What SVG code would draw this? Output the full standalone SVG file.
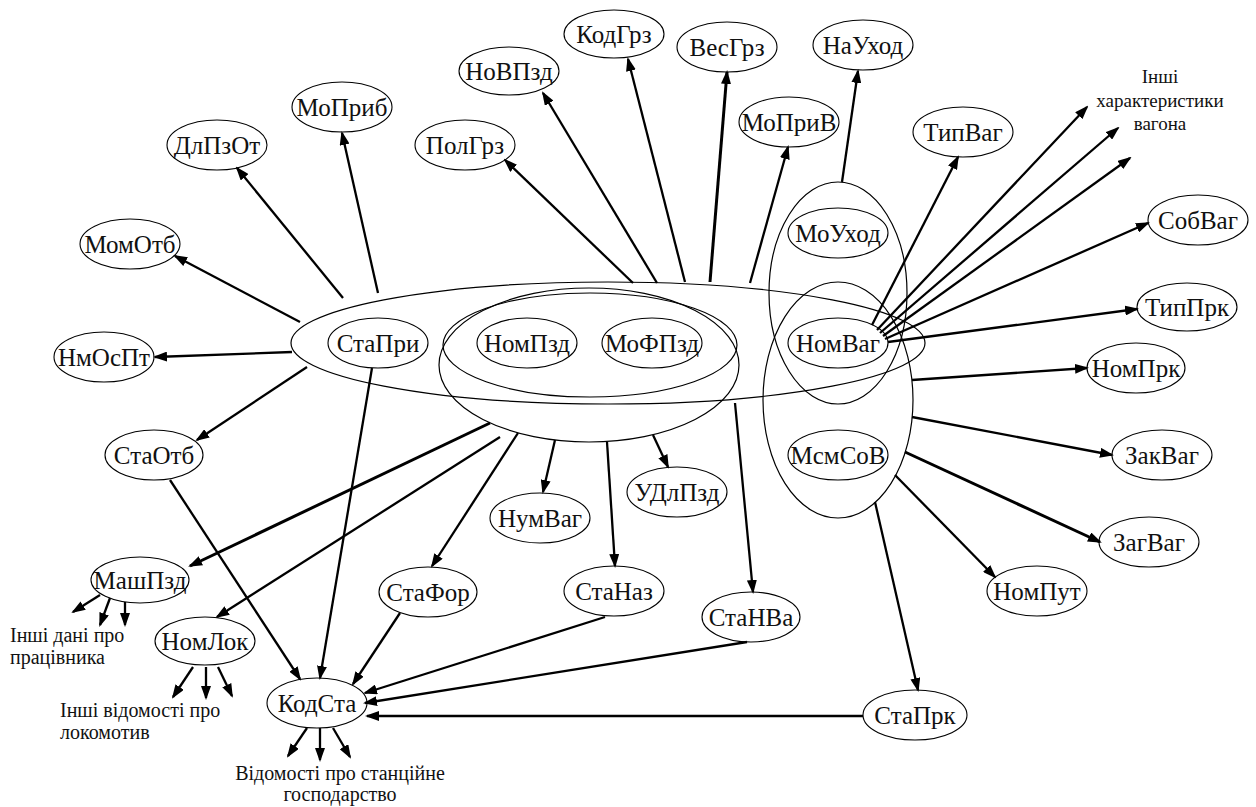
<svg xmlns="http://www.w3.org/2000/svg" width="1256" height="807" viewBox="0 0 1256 807">
<defs>
<marker id="ah" markerUnits="userSpaceOnUse" markerWidth="14" markerHeight="10" refX="12" refY="5" orient="auto" viewBox="0 0 14 10">
<path d="M0,0 L14,5 L0,10 z" fill="#000"/>
</marker>
</defs>
<style>
.n ellipse{fill:none;stroke:#000;stroke-width:1.1}
.c{fill:none;stroke:#000;stroke-width:1.2}
text{font-family:"Liberation Serif","DejaVu Serif",serif;fill:#111}
.n text{font-size:25px;text-anchor:middle}
.lb text{font-size:20px}
#lbl-wagon text{font-size:19px}
#edges line{stroke:#000;stroke-width:2.3;marker-end:url(#ah)}
#edges line.t{stroke-width:3}
</style>
<rect width="1256" height="807" fill="#fff"/>

<g id="containers">
<ellipse id="grp-big" class="c" cx="608" cy="343" rx="317" ry="61"/>
<ellipse id="grp-train-narrow" class="c" cx="590" cy="345" rx="147" ry="52"/>
<ellipse id="grp-train-round" class="c" cx="589" cy="365" rx="150" ry="77"/>
<ellipse id="grp-wagon-upper" class="c" cx="838" cy="293" rx="69" ry="111"/>
<ellipse id="grp-wagon-lower" class="c" cx="838" cy="400" rx="75" ry="118"/>
</g>

<g id="edges">
<line x1="300" y1="322" x2="175" y2="256"/>
<line x1="343" y1="298" x2="237" y2="168"/>
<line x1="378" y1="293" x2="342" y2="133"/>
<line x1="292" y1="352" x2="155" y2="357"/>
<line x1="307" y1="367" x2="197" y2="440"/>
<line x1="633" y1="283" x2="505" y2="160"/>
<line x1="657" y1="283" x2="543" y2="93"/>
<line x1="685" y1="282" x2="628" y2="59"/>
<line class="t" x1="710" y1="282" x2="727" y2="72"/>
<line x1="750" y1="283" x2="788" y2="147"/>
<line x1="842" y1="182" x2="858" y2="71"/>
<line x1="872" y1="325" x2="958" y2="157"/>
<line x1="877" y1="330" x2="1087" y2="107"/>
<line x1="880" y1="333" x2="1118" y2="128"/>
<line x1="883" y1="336" x2="1130" y2="158"/>
<line x1="885" y1="339" x2="1148" y2="223"/>
<line x1="888" y1="342" x2="1137" y2="309"/>
<line x1="912" y1="380" x2="1087" y2="368"/>
<line x1="912" y1="417" x2="1112" y2="455"/>
<line class="t" x1="905" y1="452" x2="1100" y2="542"/>
<line x1="895" y1="475" x2="995" y2="577"/>
<line x1="875" y1="502" x2="918" y2="690"/>
<line x1="863" y1="716" x2="367" y2="716"/>
<line x1="555" y1="440" x2="543" y2="492"/>
<line x1="653" y1="435" x2="668" y2="467"/>
<line x1="607" y1="442" x2="615" y2="566"/>
<line x1="735" y1="403" x2="753" y2="592"/>
<line x1="518" y1="433" x2="432" y2="566"/>
<line x1="500" y1="437" x2="217" y2="617"/>
<line class="t" x1="490" y1="423" x2="190" y2="566"/>
<line x1="372" y1="368" x2="320" y2="678"/>
<line x1="170" y1="480" x2="300" y2="679"/>
<line x1="400" y1="613" x2="353" y2="684"/>
<line x1="605" y1="617" x2="365" y2="693"/>
<line x1="747" y1="642" x2="365" y2="703"/>
<line x1="100" y1="595" x2="73" y2="612"/>
<line x1="110" y1="598" x2="100" y2="625"/>
<line x1="125" y1="602" x2="125" y2="625"/>
<line x1="193" y1="667" x2="173" y2="697"/>
<line x1="206" y1="667" x2="206" y2="698"/>
<line x1="218" y1="667" x2="232" y2="696"/>
<line x1="307" y1="728" x2="288" y2="756"/>
<line x1="320" y1="728" x2="320" y2="760"/>
<line x1="333" y1="728" x2="350" y2="757"/>
</g>

<g id="nodes">
<g id="n-MoPryb" class="n"><ellipse cx="342" cy="107" rx="50" ry="25"/><text x="342" y="116">МоПриб</text></g>
<g id="n-DlPzOt" class="n"><ellipse cx="217" cy="145" rx="50" ry="25"/><text x="217" y="154">ДлПзОт</text></g>
<g id="n-MomOtb" class="n"><ellipse cx="130" cy="244" rx="50" ry="25"/><text x="130" y="253">МомОтб</text></g>
<g id="n-NmOsPt" class="n"><ellipse cx="104" cy="357" rx="50" ry="25"/><text x="104" y="366">НмОсПт</text></g>
<g id="n-StaOtb" class="n"><ellipse cx="154" cy="455" rx="49" ry="25"/><text x="154" y="464">СтаОтб</text></g>
<g id="n-StaPry" class="n"><ellipse cx="378" cy="343" rx="50" ry="25"/><text x="378" y="352">СтаПри</text></g>
<g id="n-NomPzd" class="n"><ellipse cx="527" cy="343" rx="50" ry="25"/><text x="527" y="352">НомПзд</text></g>
<g id="n-MoFPzd" class="n"><ellipse cx="652" cy="343" rx="50" ry="25"/><text x="652" y="352">МоФПзд</text></g>
<g id="n-NomVag" class="n"><ellipse cx="838" cy="343" rx="50" ry="25"/><text x="838" y="352">НомВаг</text></g>
<g id="n-MoUkhod" class="n"><ellipse cx="838" cy="233" rx="50" ry="25"/><text x="838" y="242">МоУход</text></g>
<g id="n-MsmSoV" class="n"><ellipse cx="838" cy="455" rx="50" ry="25"/><text x="838" y="464">МсмСоВ</text></g>
<g id="n-PolGrz" class="n"><ellipse cx="465" cy="145" rx="50" ry="25"/><text x="465" y="154">ПолГрз</text></g>
<g id="n-NoVPzd" class="n"><ellipse cx="509" cy="71" rx="50" ry="24"/><text x="509" y="80">НоВПзд</text></g>
<g id="n-KodGrz" class="n"><ellipse cx="614" cy="34" rx="50" ry="24"/><text x="614" y="43">КодГрз</text></g>
<g id="n-VesGrz" class="n"><ellipse cx="727" cy="47" rx="50" ry="25"/><text x="727" y="56">ВесГрз</text></g>
<g id="n-MoPryV" class="n"><ellipse cx="789" cy="122" rx="50" ry="25"/><text x="789" y="131">МоПриВ</text></g>
<g id="n-NaUkhod" class="n"><ellipse cx="863" cy="45" rx="50" ry="25"/><text x="863" y="54">НаУход</text></g>
<g id="n-TypVag" class="n"><ellipse cx="963" cy="132" rx="50" ry="25"/><text x="963" y="141">ТипВаг</text></g>
<g id="n-SobVag" class="n"><ellipse cx="1198" cy="220" rx="50" ry="25"/><text x="1198" y="229">СобВаг</text></g>
<g id="n-TypPrk" class="n"><ellipse cx="1187" cy="307" rx="50" ry="24"/><text x="1187" y="316">ТипПрк</text></g>
<g id="n-NomPrk" class="n"><ellipse cx="1136" cy="368" rx="49" ry="25"/><text x="1136" y="377">НомПрк</text></g>
<g id="n-ZakVag" class="n"><ellipse cx="1162" cy="455" rx="50" ry="25"/><text x="1162" y="464">ЗакВаг</text></g>
<g id="n-ZagVag" class="n"><ellipse cx="1149" cy="542" rx="50" ry="25"/><text x="1149" y="551">ЗагВаг</text></g>
<g id="n-NomPut" class="n"><ellipse cx="1037" cy="591" rx="50" ry="25"/><text x="1037" y="600">НомПут</text></g>
<g id="n-StaPrk" class="n"><ellipse cx="915" cy="715" rx="52" ry="25"/><text x="915" y="724">СтаПрк</text></g>
<g id="n-StaNVa" class="n"><ellipse cx="751" cy="617" rx="49" ry="25"/><text x="751" y="626">СтаНВа</text></g>
<g id="n-StaNaz" class="n"><ellipse cx="614" cy="591" rx="50" ry="25"/><text x="614" y="600">СтаНаз</text></g>
<g id="n-StaFor" class="n"><ellipse cx="428" cy="592" rx="49" ry="25"/><text x="428" y="601">СтаФор</text></g>
<g id="n-NumVag" class="n"><ellipse cx="540" cy="518" rx="50" ry="25"/><text x="540" y="527">НумВаг</text></g>
<g id="n-UDlPzd" class="n"><ellipse cx="677" cy="492" rx="50" ry="25"/><text x="677" y="501">УДлПзд</text></g>
<g id="n-KodSta" class="n"><ellipse cx="317" cy="703" rx="50" ry="25"/><text x="317" y="712">КодСта</text></g>
<g id="n-MashPzd" class="n"><ellipse cx="140" cy="580" rx="49" ry="23"/><text x="140" y="589">МашПзд</text></g>
<g id="n-NomLok" class="n"><ellipse cx="205" cy="641" rx="50" ry="24"/><text x="205" y="650">НомЛок</text></g>

<g id="lbl-wagon" class="lb"><text text-anchor="middle"><tspan x="1160" y="83">Інші</tspan><tspan x="1160" y="107">характеристики</tspan><tspan x="1160" y="130">вагона</tspan></text></g>
<g id="lbl-worker" class="lb"><text><tspan x="10" y="642">Інші дані про</tspan><tspan x="10" y="664">працівника</tspan></text></g>
<g id="lbl-loco" class="lb"><text><tspan x="60" y="717">Інші відомості про</tspan><tspan x="60" y="739">локомотив</tspan></text></g>
<g id="lbl-station" class="lb"><text text-anchor="middle"><tspan x="340" y="780">Відомості про станційне</tspan><tspan x="340" y="801">господарство</tspan></text></g>
</g>
</svg>
